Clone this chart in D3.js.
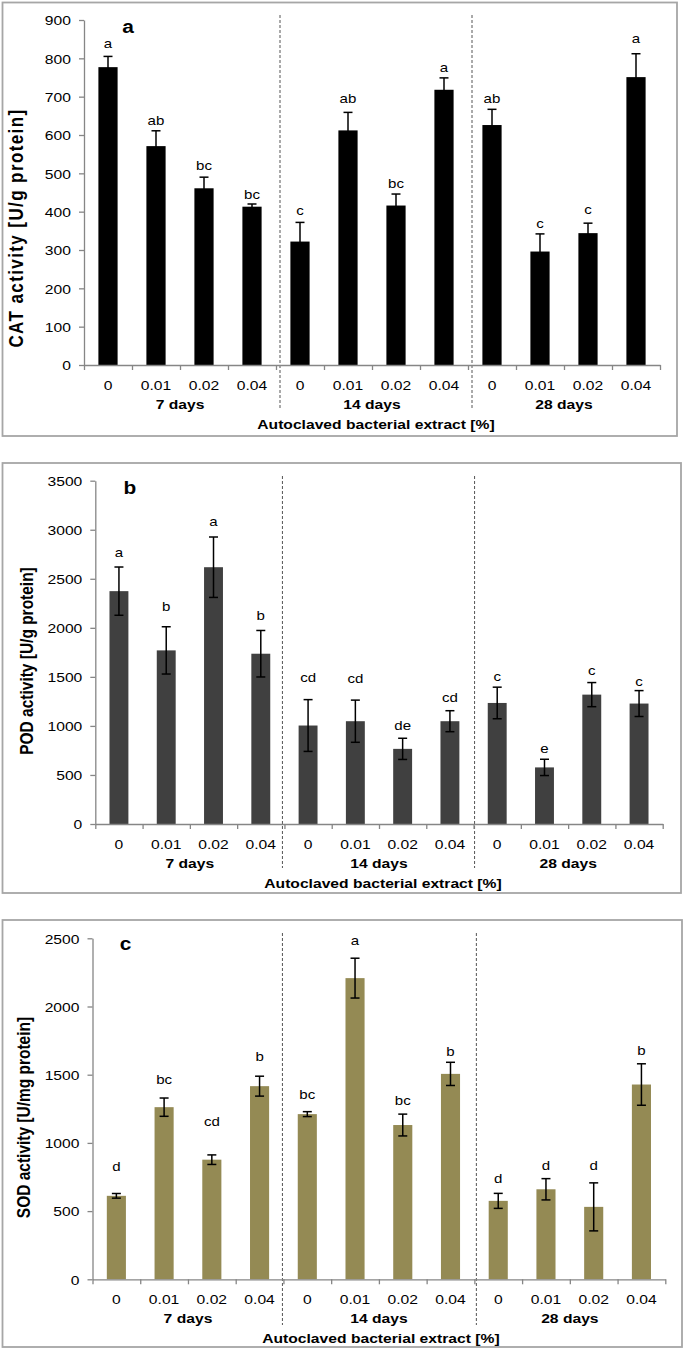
<!DOCTYPE html>
<html><head><meta charset="utf-8">
<script src="https://cdn.jsdelivr.net/npm/d3@7"></script>
<style>body{margin:0;background:#fff} svg{display:block}</style>
</head><body><svg id="c" width="685" height="1351"></svg>
<script>
// ---------- data ----------
const concentrations = ["0", "0.01", "0.02", "0.04"];
const periods = ["7 days", "14 days", "28 days"];
const xTitle = "Autoclaved bacterial extract [%]";

const catTitle = "CAT activity [U/g protein]";
const catMeans = [777, 571, 461, 413, 322, 612, 416, 718, 626, 296, 344, 751];
const catSD = [28, 40, 29, 7, 50, 47, 30, 31, 41, 46, 26, 61];
const catLetters = ["a", "ab", "bc", "bc", "c", "ab", "bc", "a", "ab", "c", "c", "a"];
const catLetterAt = [828, 627, 508, 434, 391, 683, 462, 765, 684, 358, 393, 839];
const catTicks = [0, 100, 200, 300, 400, 500, 600, 700, 800, 900];

const podTitle = "POD activity [U/g protein]";
const podMeans = [2374, 1770, 2618, 1736, 1004, 1048, 766, 1048, 1234, 577, 1319, 1228];
const podSD = [246, 241, 308, 237, 264, 215, 108, 107, 161, 83, 123, 132];
const podLetters = ["a", "b", "a", "b", "cd", "cd", "de", "cd", "c", "e", "c", "c"];
const podLetterAt = [2723, 2167, 3039, 2082, 1445, 1435, 963, 1248, 1455, 722, 1523, 1411];
const podTicks = [0, 500, 1000, 1500, 2000, 2500, 3000, 3500];

const sodTitle = "SOD activity [U/mg protein]";
const sodMeans = [612, 1262, 877, 1416, 1211, 2208, 1131, 1506, 575, 660, 531, 1428];
const sodSD = [17, 67, 35, 73, 18, 146, 80, 85, 55, 78, 176, 152];
const sodLetters = ["d", "bc", "cd", "b", "bc", "a", "bc", "b", "d", "d", "d", "b"];
const sodLetterAt = [792, 1433, 1121, 1601, 1321, 2454, 1279, 1637, 704, 804, 804, 1645];
const sodTicks = [0, 500, 1000, 1500, 2000, 2500];

// ---------- drawing ----------
const SX = 1.16;
const FONT = '"Liberation Sans", Arial, Helvetica, sans-serif';
const svg = d3.select("#c");
svg.append("rect").attr("width", 685).attr("height", 1351).attr("fill", "#fff");

const keys = [];
periods.forEach(p => concentrations.forEach(c => keys.push(p + "|" + c)));

function stext(g, x, y, str, o) {
  const t = g.append("text")
    .attr("transform", `translate(${x},${y}) scale(${SX},1)`)
    .attr("text-anchor", o.anchor || "middle")
    .attr("font-family", FONT)
    .attr("font-size", o.size)
    .attr("font-weight", o.weight || "normal")
    .attr("fill", o.fill || "#000")
    .text(str);
  return t;
}

function panel(cfg) {
  const g = svg.append("g");
  const [fx0, fy0, fx1, fy1] = cfg.frame;
  g.append("rect").attr("x", fx0).attr("y", fy0).attr("width", fx1 - fx0).attr("height", fy1 - fy0)
    .attr("fill", "none").attr("stroke", "#a6a6a6").attr("stroke-width", 1.8);

  const x = d3.scaleBand().domain(keys).range([cfg.x0, cfg.x1]).paddingInner(0.6).paddingOuter(0.3);
  const xi = d3.scaleLinear().domain([0, keys.length]).range([cfg.x0, cfg.x1]);
  const y = d3.scaleLinear().domain([0, cfg.yMax]).range([cfg.yBot, cfg.yTop]);
  const cx = k => x(k) + x.bandwidth() / 2;

  // group separators
  [4, 8].forEach((b, i) => {
    g.append("line").attr("x1", xi(b) + cfg.dashOff[i]).attr("x2", xi(b) + cfg.dashOff[i])
      .attr("y1", cfg.dashY[0]).attr("y2", cfg.dashY[1])
      .attr("stroke", "#555").attr("stroke-width", 1).attr("stroke-dasharray", "3,2");
  });

  // bars
  g.selectAll("rect.bar").data(cfg.means).join("rect").attr("class", "bar")
    .attr("x", (d, i) => x(keys[i])).attr("y", d => y(d))
    .attr("width", x.bandwidth()).attr("height", d => y(0) - y(d))
    .attr("fill", cfg.color);

  // error bars
  const cap = 4.5;
  const eb = g.selectAll("g.err").data(cfg.means).join("g").attr("class", "err");
  eb.append("line").attr("x1", (d, i) => cx(keys[i])).attr("x2", (d, i) => cx(keys[i]))
    .attr("y1", (d, i) => y(d - cfg.sd[i])).attr("y2", (d, i) => y(d + cfg.sd[i]));
  eb.append("line").attr("x1", (d, i) => cx(keys[i]) - cap).attr("x2", (d, i) => cx(keys[i]) + cap)
    .attr("y1", (d, i) => y(d + cfg.sd[i])).attr("y2", (d, i) => y(d + cfg.sd[i]));
  eb.append("line").attr("x1", (d, i) => cx(keys[i]) - cap).attr("x2", (d, i) => cx(keys[i]) + cap)
    .attr("y1", (d, i) => y(d - cfg.sd[i])).attr("y2", (d, i) => y(d - cfg.sd[i]));
  eb.selectAll("line").attr("stroke", "#000").attr("stroke-width", 1.5);

  // significance letters
  cfg.letters.forEach((l, i) => stext(g, cx(keys[i]), y(cfg.letterAt[i]), l, { size: 13 }));

  // y axis
  const ya = d3.axisLeft(y).tickValues(cfg.ticks).tickSize(5).tickSizeOuter(0).tickFormat(d3.format("d"));
  const yg = g.append("g").attr("transform", `translate(${cfg.x0},0)`).call(ya);
  yg.select(".domain").attr("stroke", "#868686").attr("stroke-width", 1.3);
  yg.selectAll(".tick line").attr("stroke", "#868686").attr("stroke-width", 1.3);
  yg.selectAll(".tick text").attr("x", null).attr("dy", "0.35em")
    .attr("transform", `translate(-13,0) scale(${SX},1)`)
    .attr("font-size", 13.5).attr("font-family", FONT).attr("fill", "#000");

  // x axis (ticks at category boundaries)
  const xa = d3.axisBottom(xi).tickValues(d3.range(0, keys.length + 1)).tickSize(5).tickSizeOuter(0).tickFormat("");
  const xg = g.append("g").attr("transform", `translate(0,${cfg.yBot})`).call(xa);
  xg.select(".domain").attr("stroke", "#868686").attr("stroke-width", 1.3);
  xg.selectAll(".tick line").attr("stroke", "#868686").attr("stroke-width", 1.3);

  // category labels
  keys.forEach(k => stext(g, cx(k), cfg.yBot + 24.5, k.split("|")[1], { size: 13.5 }));
  periods.forEach((p, i) => stext(g, (xi(i * 4) + xi(i * 4 + 4)) / 2, cfg.yBot + 43.5, p, { size: 13.5, weight: "bold" }));
  stext(g, (cfg.x0 + cfg.x1) / 2 + cfg.titleDx, cfg.yBot + 64, xTitle, { size: 13.5, weight: "bold" });

  // y title
  g.append("text")
    .attr("transform", `translate(${cfg.yTitle[0]},${cfg.yTitle[1]}) scale(${SX},1) rotate(-90)`)
    .attr("text-anchor", "middle").attr("font-family", FONT).attr("font-weight", "bold")
    .attr("font-size", cfg.yTitleSize).attr("letter-spacing", cfg.yTitleLS)
    .text(cfg.title);

  // panel letter
  stext(g, cfg.tag[0], cfg.tag[1], cfg.tag[2], { size: 18, weight: "bold" });
}

panel({
  frame: [2.5, 2.5, 677, 436], x0: 84, x1: 660, yTop: 20, yBot: 365, yMax: 900,
  ticks: catTicks, means: catMeans, sd: catSD, letters: catLetters, letterAt: catLetterAt,
  color: "#000000", title: catTitle, yTitle: [23, 228], yTitleSize: 17, yTitleLS: 1.4,
  tag: [128, 33, "a"], dashOff: [4, 4], dashY: [15, 408], titleDx: 4
});
panel({
  frame: [2.5, 463, 681, 893], x0: 95.3, x1: 662.7, yTop: 480.7, yBot: 824, yMax: 3500,
  ticks: podTicks, means: podMeans, sd: podSD, letters: podLetters, letterAt: podLetterAt,
  color: "#404040", title: podTitle, yTitle: [33.2, 661], yTitleSize: 15.5, yTitleLS: 0,
  tag: [130, 493.5, "b"], dashOff: [-2, 1], dashY: [476, 868], titleDx: 4
});
panel({
  frame: [2.5, 920, 682, 1347], x0: 92.5, x1: 665.3, yTop: 938.3, yBot: 1279.3, yMax: 2500,
  ticks: sodTicks, means: sodMeans, sd: sodSD, letters: sodLetters, letterAt: sodLetterAt,
  color: "#948a54", title: sodTitle, yTitle: [29.7, 1117.5], yTitleSize: 15.5, yTitleLS: 0,
  tag: [125.5, 950, "c"], dashOff: [-1, 2], dashY: [933, 1325], titleDx: 2
});
</script>
</body></html>
